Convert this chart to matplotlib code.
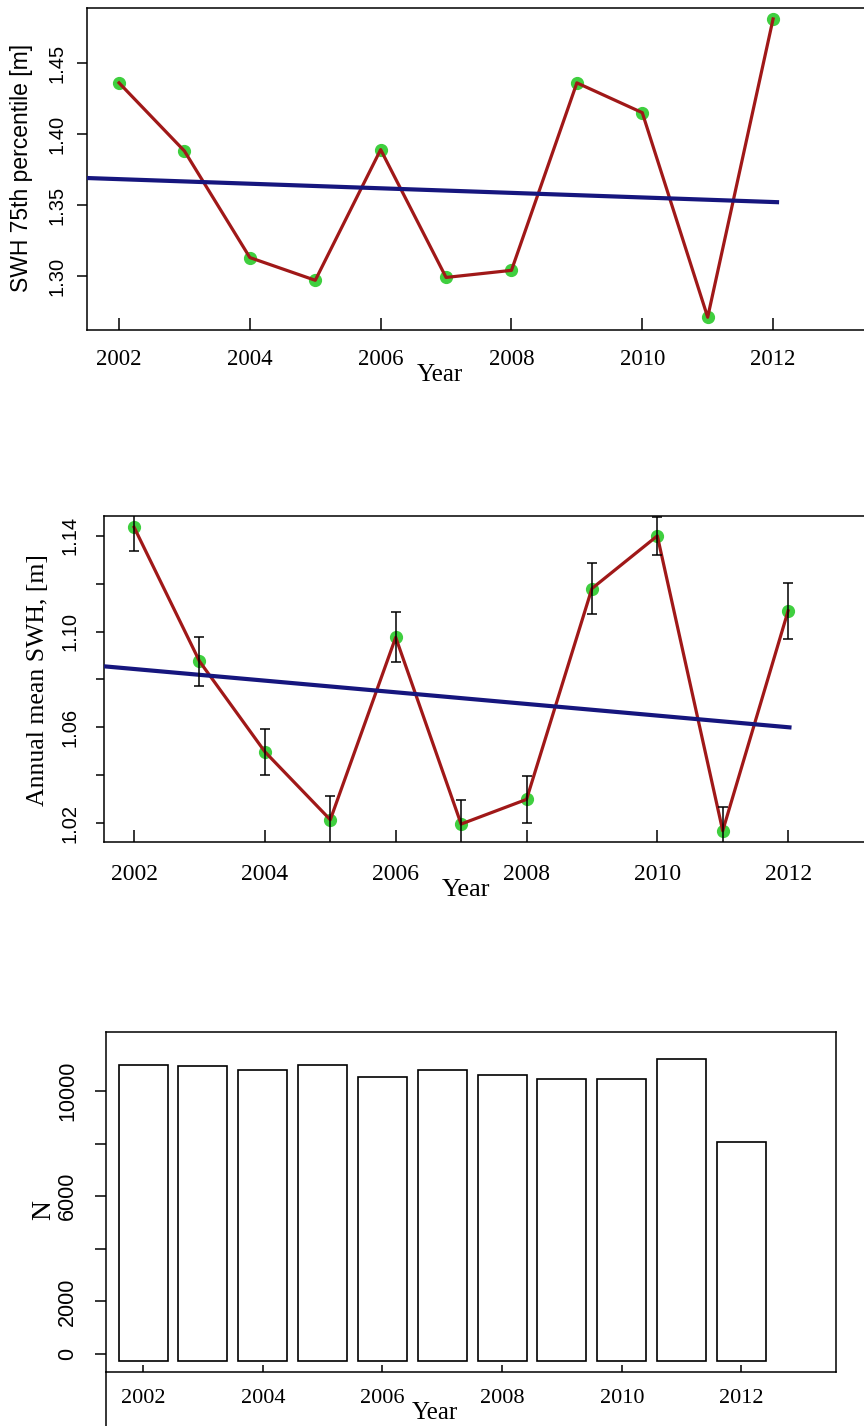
import numpy as np
import matplotlib
matplotlib.use('Agg')
import matplotlib.pyplot as plt
from matplotlib.lines import Line2D

# ---------- data ----------
years = [2002, 2003, 2004, 2005, 2006, 2007, 2008, 2009, 2010, 2011, 2012]

p75 = [1.436, 1.388, 1.313, 1.297, 1.389, 1.299, 1.304, 1.436, 1.415, 1.271, 1.481]
p75_trend_x = [2001.51, 2012.06]
p75_trend_y = [1.369, 1.352]

swh_mean = [1.1436, 1.0876, 1.0498, 1.0214, 1.0976, 1.0196, 1.0299, 1.1180, 1.1400, 1.0168, 1.1087]
swh_err = [0.0100, 0.0102, 0.0097, 0.0100, 0.0105, 0.0100, 0.0098, 0.0107, 0.0080, 0.0100, 0.0118]
mean_trend_x = [2001.54, 2012.02]
mean_trend_y = [1.0855, 1.060]

n_obs = [11000, 10940, 10790, 11000, 10520, 10790, 10610, 10460, 10470, 11220, 8060]

xtick_years = [2002, 2004, 2006, 2008, 2010, 2012]

W, H = 864, 1426
SERIF = ['Liberation Serif', 'DejaVu Serif']
SANS = ['Liberation Sans', 'DejaVu Sans']
RED = '#a01818'
GREEN = '#3fcf3f'
NAVY = '#16167e'


def fx(x):  # pixel -> figure fraction
    return x / W


def fy(y):
    return 1 - y / H


def style_axis(ax, xlim, ylim, yticks, ylabels, xlen, ylen, xpad, ypad, xsize, ysize):
    ax.set_xlim(*xlim)
    ax.set_ylim(*ylim)
    ax.set_xticks(xtick_years)
    ax.set_xticklabels([str(y) for y in xtick_years], family=SERIF, fontsize=xsize)
    ax.set_yticks(yticks)
    ax.set_yticklabels(ylabels, family=SANS, fontsize=ysize, rotation=90, va='center')
    ax.tick_params(axis='x', direction='in', length=xlen, width=1.1, pad=xpad)
    ax.tick_params(axis='y', direction='out', length=ylen, width=1.1, pad=ypad)
    for s in ax.spines.values():
        s.set_linewidth(1.1)


fig = plt.figure(figsize=(W / 100, H / 100), dpi=100)

# ---------- (1) 75th percentile ----------
ax1 = fig.add_axes([fx(87), fy(330), fx(864 - 87), (330 - 8) / H])
ax1.plot(years, p75, 'o', color=GREEN, ms=8.5, zorder=2)
ax1.plot(years, p75, '-', color=RED, lw=2.3, zorder=3)
ax1.plot(p75_trend_x, p75_trend_y, '-', color=NAVY, lw=3.0, zorder=4)
style_axis(ax1, (2001.51, 2013.39), (1.262, 1.4887),
           [1.30, 1.35, 1.40, 1.45], ['1.30', '1.35', '1.40', '1.45'],
           8.5, 7, 14, 8, 16.5, 14.5)
ax1.spines['right'].set_visible(False)
fig.text(fx(22), fy(168), 'SWH 75th percentile [m]', family=SANS, fontsize=16.5,
         rotation=90, ha='center', va='center')
fig.text(fx(440), fy(375), 'Year', family=SERIF, fontsize=18, ha='center', va='center')

# ---------- (2) annual mean with error bars ----------
ax2 = fig.add_axes([fx(104), fy(842), fx(864 - 104), (842 - 516) / H])
ax2.plot(years, swh_mean, 'o', color=GREEN, ms=8.5, zorder=2)
ax2.plot(years, swh_mean, '-', color=RED, lw=2.3, zorder=3)
ax2.plot(mean_trend_x, mean_trend_y, '-', color=NAVY, lw=3.0, zorder=4)
ax2.errorbar(years, swh_mean, yerr=swh_err, fmt='none', ecolor='black',
             elinewidth=1.1, capsize=3.8, capthick=1.1, zorder=5)
style_axis(ax2, (2001.54, 2013.16), (1.0121, 1.1483),
           [1.02, 1.04, 1.06, 1.08, 1.10, 1.12, 1.14],
           ['1.02', '', '1.06', '', '1.10', '', '1.14'],
           9, 5.5, 16, 12, 17, 14.5)
ax2.spines['right'].set_visible(False)
fig.text(fx(38), fy(680), 'Annual mean SWH, [m]', family=SERIF, fontsize=18.5,
         rotation=90, ha='center', va='center')
fig.text(fx(466), fy(890), 'Year', family=SERIF, fontsize=19, ha='center', va='center')

# ---------- (3) number of observations ----------
BAR_BASE = -280
ax3 = fig.add_axes([fx(106), fy(1372), fx(836 - 106), (1372 - 1032) / H])
ax3.bar(years, np.array(n_obs) - BAR_BASE, bottom=BAR_BASE, width=0.82,
        color='white', edgecolor='black', linewidth=1.2)
style_axis(ax3, (2001.38, 2013.58), (-685, 12246),
           [0, 2000, 4000, 6000, 8000, 10000], ['0', '2000', '', '6000', '', '10000'],
           5, 8, 12, 12, 16, 15.5)
fig.text(fx(44), fy(1210), 'N', family=SERIF, fontsize=20,
         rotation=90, ha='center', va='center')
fig.text(fx(435), fy(1413), 'Year', family=SERIF, fontsize=18, ha='center', va='center')
# left frame line runs on below the axis in the original
fig.add_artist(Line2D([fx(106), fx(106)], [fy(1372), 0], color='black', lw=1.1))

fig.savefig('out.png', dpi=100)
